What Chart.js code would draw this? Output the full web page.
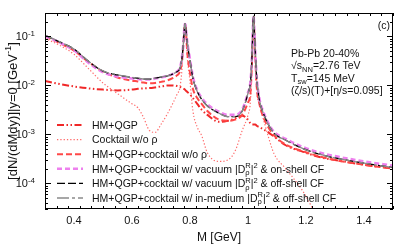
<!DOCTYPE html>
<html><head><meta charset="utf-8">
<script src="https://cdn.jsdelivr.net/npm/chart.js@4/dist/chart.umd.min.js"></script>
<style>html,body{margin:0;padding:0;background:#fff}#wrap{width:411px;height:247px;position:relative}</style>
</head><body><div id="wrap"><canvas id="c" width="411" height="247"></canvas></div>
<script>
// ---------------- data ----------------
const masses = [0.30,0.35,0.40,0.45,0.50,0.55,0.60,0.62,0.64,0.66,0.68,0.70,0.72,0.74,0.755,0.765,0.772,0.777,0.780,0.782,0.784,0.787,0.79,0.80,0.81,0.825,0.84,0.86,0.90,0.93,0.955,0.98,1.00,1.008,1.013,1.017,1.019,1.021,1.025,1.03,1.04,1.05,1.07,1.09,1.13,1.19,1.25,1.30,1.40,1.50];

const hmQgp = [0.0123,0.0107,0.0095,0.0087,0.0082,0.0079,0.0082,0.0085,0.0087,0.0088,0.0091,0.0095,0.0099,0.0100,0.0097,0.0093,0.0090,0.0087,0.0084,0.0082,0.0080,0.0077,0.0074,0.0066,0.0055,0.0042,0.0032,0.0025,0.0018,0.0019,0.0021,0.0024,0.0020,0.0017,0.0016,0.0016,0.0016,0.0016,0.0016,0.0015,0.0014,0.0013,0.0011,0.00090,0.00060,0.00044,0.00034,0.00030,0.00024,0.00020];

const cocktailNoRho = [0.091,0.066,0.043,0.022,0.0112,0.0068,0.0042,0.0035,0.0022,0.0012,0.0011,0.0016,0.0025,0.0042,0.0065,0.0090,0.020,0.060,0.120,0.165,0.165,0.100,0.045,0.012,0.0030,0.0014,0.00095,0.00042,0.00028,0.00030,0.00045,0.0012,0.0025,0.0045,0.020,0.120,0.245,0.150,0.035,0.0080,0.0040,0.0024,0.0009,0.00040,0.00020,0.000068,0.000015,null,null,null];

const totalNoRho = [0.100,0.073,0.051,0.030,0.019,0.0145,0.0125,0.0120,0.0114,0.0110,0.0112,0.0118,0.0125,0.0140,0.0160,0.019,0.030,0.068,0.128,0.172,0.170,0.108,0.052,0.018,0.0085,0.0055,0.0042,0.0030,0.0020,0.0019,0.0020,0.0025,0.0045,0.0065,0.022,0.125,0.250,0.155,0.038,0.0095,0.0040,0.0025,0.0014,0.00095,0.00062,0.00045,0.00035,0.00030,0.00024,0.00020];

const totalVacOnShell = [0.102,0.075,0.052,0.029,0.0185,0.0152,0.0138,0.0135,0.0132,0.0132,0.0138,0.0146,0.0154,0.0170,0.0192,0.023,0.036,0.071,0.130,0.178,0.174,0.121,0.082,0.034,0.015,0.0080,0.0056,0.0041,0.0029,0.0025,0.0025,0.0032,0.0071,0.0112,0.030,0.150,0.265,0.170,0.051,0.0145,0.0051,0.0032,0.0017,0.00112,0.00081,0.00055,0.00042,0.00036,0.00028,0.00023];

const totalVacOffShell = [0.105,0.077,0.055,0.031,0.0195,0.0163,0.0145,0.0140,0.0134,0.0134,0.0140,0.0148,0.0155,0.0170,0.0190,0.022,0.035,0.070,0.130,0.180,0.175,0.120,0.080,0.032,0.014,0.0075,0.0052,0.0038,0.0027,0.0023,0.0023,0.0030,0.0069,0.011,0.030,0.150,0.265,0.170,0.050,0.014,0.0048,0.0030,0.0016,0.00105,0.00076,0.00051,0.00039,0.00033,0.00026,0.00021];

const totalMedOffShell = [0.106,0.078,0.055,0.031,0.0197,0.0164,0.0146,0.0141,0.0135,0.0135,0.0141,0.0149,0.0156,0.0171,0.0191,0.022,0.035,0.070,0.131,0.181,0.176,0.121,0.080,0.032,0.014,0.0075,0.0052,0.0038,0.0027,0.0023,0.0023,0.0030,0.0069,0.011,0.030,0.150,0.265,0.170,0.050,0.014,0.0048,0.0030,0.0016,0.00105,0.00076,0.00051,0.00039,0.00033,0.00026,0.00021];

const seriesLabels = [
  'HM+QGP',
  'Cocktail w/o ρ',
  'HM+QGP+cocktail w/o ρ',
  'HM+QGP+cocktail w/ vacuum |D[[R|ρ]]|[[2|]] & on-shell CF',
  'HM+QGP+cocktail w/ vacuum |D[[R|ρ]]|[[2|]] & off-shell CF',
  'HM+QGP+cocktail w/ in-medium |D[[R|ρ]]|[[2|]] & off-shell CF'
];

const xTicks = [0.4,0.6,0.8,1.0,1.2,1.4];
const xTickLabels = ['0.4','0.6','0.8','1','1.2','1.4'];
const yTicks = [1e-4,1e-3,1e-2,1e-1];
const yTickLabels = ['10[[-4|]]','10[[-3|]]','10[[-2|]]','10[[-1|]]'];
const annotationLines = ['Pb-Pb 20-40%','√s[[|NN]]=2.76 TeV','T[[|sw]]=145 MeV','(ζ/s)(T)+[η/s=0.095]'];
const panelTag = '(c)';
const xTitle = 'M [GeV]';
const yTitle = '[dN/(dMdy)]|y=0 [GeV[[-1|]]]';

// ---------------- styling ----------------
const FAMILY = '"Liberation Sans", Arial, sans-serif';
const TXT = '#111';
const seriesSeries = [hmQgp, cocktailNoRho, totalNoRho, totalVacOnShell, totalVacOffShell, totalMedOffShell];
const styles = [
  {borderColor:'#f02828', borderWidth:2,   borderDash:[7,2.5,1.5,2.5,1.5,2.5], order:5},
  {borderColor:'#ff6a6a', borderWidth:1.2, borderDash:[1.3,2],                order:4},
  {borderColor:'#ff4848', borderWidth:2,   borderDash:[6,3],                  order:3},
  {borderColor:'#ee80ee', borderWidth:2.6, borderDash:[5,3],                  order:2},
  {borderColor:'#000000', borderWidth:1.3, borderDash:[8,3],                  order:1},
  {borderColor:'#8a8a8a', borderWidth:1.3, borderDash:[12,3,3,3],             order:0}
];

function parseRich(s){
  const out=[]; let pos=0;
  while(true){
    const i=s.indexOf('[[',pos);
    if(i<0){ if(pos<s.length) out.push(s.slice(pos)); break; }
    if(i>pos) out.push(s.slice(pos,i));
    const j=s.indexOf(']]',i);
    const parts=s.slice(i+2,j).split('|');
    out.push({sup:parts[0]||'',sub:parts[1]||''});
    pos=j+2;
  }
  return out;
}
function richWidth(ctx,str,size){
  let w=0; const small=size*0.72;
  for(const seg of parseRich(str)){
    if(typeof seg==='string'){ctx.font=size+'px '+FAMILY; w+=ctx.measureText(seg).width;}
    else{ctx.font=small+'px '+FAMILY; w+=Math.max(ctx.measureText(seg.sup).width,ctx.measureText(seg.sub).width);}
  }
  return w;
}
function drawRich(ctx,str,x,y,size,align){
  const w=richWidth(ctx,str,size);
  let cx = align==='right'? x-w : align==='center'? x-w/2 : x;
  const base = y + size*0.36;
  const small=size*0.72;
  ctx.textAlign='left'; ctx.textBaseline='alphabetic'; ctx.fillStyle=TXT;
  for(const seg of parseRich(str)){
    if(typeof seg==='string'){
      ctx.font=size+'px '+FAMILY; ctx.fillText(seg,cx,base); cx+=ctx.measureText(seg).width;
    } else {
      ctx.font=small+'px '+FAMILY;
      if(seg.sup) ctx.fillText(seg.sup,cx,base-size*0.42);
      if(seg.sub) ctx.fillText(seg.sub,cx,base+size*0.24);
      cx+=Math.max(ctx.measureText(seg.sup).width,ctx.measureText(seg.sub).width);
    }
  }
}

const decorations = {
  id:'decorations',
  afterDatasetsDraw(chart){
    const ctx=chart.ctx, a=chart.chartArea, xs=chart.scales.x, ys=chart.scales.y;
    ctx.save();
    // frame
    ctx.strokeStyle='#000'; ctx.lineWidth=1; ctx.setLineDash([]);
    ctx.strokeRect(Math.round(a.left)+0.5,Math.round(a.top)+0.5,Math.round(a.right-a.left)-1,Math.round(a.bottom-a.top)-1);
    // x ticks
    ctx.beginPath();
    for(let k=0;k<=30;k++){
      const v=0.3+k*0.04; if(v>1.5+1e-9) break;
      const px=Math.round(xs.getPixelForValue(v))+0.5;
      const major = xTicks.some(t=>Math.abs(t-v)<1e-6);
      const L = major?6:3;
      ctx.moveTo(px,a.bottom); ctx.lineTo(px,a.bottom-L);
      ctx.moveTo(px,a.top); ctx.lineTo(px,a.top+L);
    }
    // y ticks
    for(let e=-5;e<=0;e++){
      for(let m=1;m<=9;m++){
        const v=m*Math.pow(10,e);
        if(v<ys.min*0.999||v>ys.max*1.001) continue;
        const py=Math.round(ys.getPixelForValue(v))+0.5;
        const L = m===1?6:3;
        ctx.moveTo(a.left,py); ctx.lineTo(a.left+L,py);
        ctx.moveTo(a.right,py); ctx.lineTo(a.right-L,py);
      }
    }
    ctx.stroke();
    // y tick labels
    yTicks.forEach((v,i)=>{ drawRich(ctx,yTickLabels[i],a.left-10,ys.getPixelForValue(v),11,'right'); });
    // y title
    ctx.save();
    ctx.translate(12,(a.top+a.bottom)/2);
    ctx.rotate(-Math.PI/2);
    drawRich(ctx,yTitle,0,0,13,'center');
    ctx.restore();
    // legend
    seriesLabels.forEach((lab,i)=>{
      const y=a.top+112+i*14.6;
      const st=styles[i];
      ctx.save();
      ctx.strokeStyle=st.borderColor; ctx.lineWidth=st.borderWidth; ctx.setLineDash(st.borderDash);
      ctx.beginPath(); ctx.moveTo(a.left+12,y); ctx.lineTo(a.left+38,y); ctx.stroke();
      ctx.restore();
      drawRich(ctx,lab,a.left+47,y,10.5,'left');
    });
    // annotation
    annotationLines.forEach((t,i)=>{ drawRich(ctx,t,a.right-102,a.top+40+i*12.4,10.5,'left'); });
    drawRich(ctx,panelTag,a.right-3,a.top+12,10.5,'right');
    ctx.restore();
  }
};

const datasets = seriesSeries.map((arr,i)=>Object.assign({
  label: seriesLabels[i],
  data: masses.map((m,j)=>({x:m,y:arr[j]})),
  fill:false, pointRadius:0, cubicInterpolationMode:'monotone', spanGaps:false, clip:0
}, styles[i]));

new Chart(document.getElementById('c'),{
  type:'line',
  data:{datasets},
  options:{
    responsive:false, animation:false, devicePixelRatio:1,
    layout:{padding:{top:13,right:18,left:0,bottom:0}},
    plugins:{legend:{display:false},tooltip:{enabled:false}},
    scales:{
      x:{type:'linear',min:0.3,max:1.5,
        afterBuildTicks:s=>{s.ticks=xTicks.map(v=>({value:v}));},
        afterFit:s=>{s.height=38;},
        ticks:{callback:(v,i)=>xTickLabels[i],color:TXT,font:{family:FAMILY,size:11},padding:5,maxRotation:0,autoSkip:false},
        grid:{display:false,drawTicks:false,tickLength:0},
        border:{display:false},
        title:{display:true,text:xTitle,color:TXT,font:{family:FAMILY,size:12},padding:{top:0,bottom:2}}
      },
      y:{type:'logarithmic',min:3e-5,max:0.3,
        afterFit:s=>{s.width=45;},
        ticks:{display:false},
        grid:{display:false,drawTicks:false,tickLength:0},
        border:{display:false}
      }
    }
  },
  plugins:[decorations]
});
</script></body></html>
